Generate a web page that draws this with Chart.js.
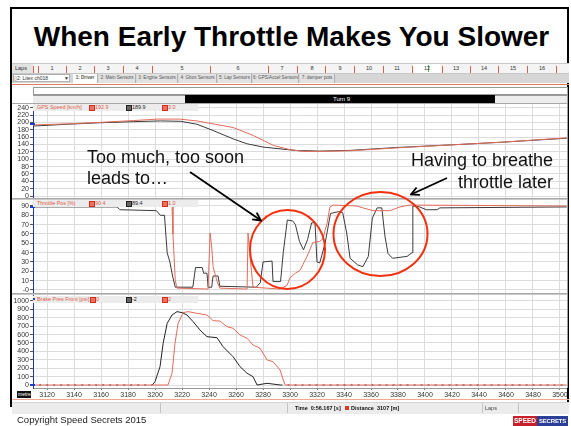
<!DOCTYPE html>
<html>
<head>
<meta charset="utf-8">
<script src="https://cdn.jsdelivr.net/npm/chart.js@4.4.1/dist/chart.umd.min.js"></script>
<style>
  body { margin:0; width:571px; height:426px; position:relative; overflow:hidden; background:#fff; font-family:"Liberation Sans", Arial, sans-serif; }
  .a { position:absolute; }
  .t { position:absolute; font-size:6px; line-height:8px; color:#333; white-space:nowrap; }
  .hdr { position:absolute; left:33px; width:165px; height:7px; background:#ececec; z-index:3; }
  .hdr .t { font-size:5.4px; top:-1px; }
  .ico { position:absolute; top:1px; width:4px; height:4px; border:1px solid #d03020; background:#f07060; }
  .ico.k { border-color:#222; background:#666; }
  canvas { position:absolute; }
</style>
</head>
<body>

<div class="a" style="left:10px;top:7px;width:555px;height:398px;border:2px solid #000;border-bottom:none"></div>

<div class="a" style="left:10px;top:23px;width:563px;text-align:center;font-size:28px;line-height:28px;font-weight:bold;color:#000">When Early Throttle Makes You Slower</div>

<!-- laps ruler -->
<div class="a" id="ruler" style="left:12px;top:63px;width:557px;height:9px;background:#f4f4f4;border-top:1px solid #c8c8c8;border-bottom:1px solid #c8c8c8"></div>
<!-- tabs -->
<div class="a" id="tabs" style="left:12px;top:74px;width:557px;height:9px;background:#d6d6d6"></div>
<div class="a" style="left:12px;top:84px;width:557px;height:1px;background:#e07a5a"></div>

<!-- turn bar -->
<div class="a" style="left:33px;top:87px;width:533px;height:6px;background:#fff;border:1px solid #9a9a9a"></div>
<div class="a" style="left:33px;top:95px;width:534px;height:8px;background:#ececec;border-top:1px solid #9a9a9a"></div>
<div class="a" style="left:185px;top:95px;width:310px;height:9px;background:#000"></div>
<div class="t" style="left:333px;top:95px;color:#fff">Turn 9</div>

<canvas id="speedChart" width="555" height="94" style="left:12px;top:104px"></canvas>
<canvas id="throttleChart" width="555" height="95" style="left:12px;top:199px"></canvas>
<canvas id="brakeChart" width="555" height="105" style="left:12px;top:295px"></canvas>

<!-- panel separators -->
<div class="a" style="left:12px;top:103px;width:555px;height:1px;background:#a8a8a8"></div>
<div class="a" style="left:12px;top:198px;width:555px;height:2px;border-top:1px solid #a8a8a8;border-bottom:1px solid #c8c8c8;box-sizing:border-box"></div>
<div class="a" style="left:12px;top:293px;width:555px;height:2px;border-top:1px solid #a8a8a8;border-bottom:1px solid #c8c8c8;box-sizing:border-box"></div>
<div class="a" style="left:567px;top:87px;width:1px;height:301px;background:#a0a0a0"></div>

<!-- cursor marks -->
<div class="a" style="left:30px;top:123px;width:5px;height:2px;background:#1c3fd0"></div>
<div class="a" style="left:30px;top:206px;width:5px;height:2px;background:#1c3fd0"></div>
<div class="a" style="left:30px;top:384px;width:5px;height:2px;background:#1c3fd0"></div>

<!-- panel headers -->
<div class="hdr" style="top:104px">
  <div class="t" style="left:4px;color:#e05a4a">GPS Speed [km/h]</div>
  <div class="ico" style="left:56px"></div><div class="t" style="left:62px;color:#e05a4a">192.9</div>
  <div class="ico k" style="left:93px"></div><div class="t" style="left:99px;color:#222">189.9</div>
  <div class="ico" style="left:129px"></div><div class="t" style="left:135px;color:#e05a4a">3.0</div>
</div>
<div class="hdr" style="top:200px">
  <div class="t" style="left:4px;color:#e05a4a">Throttle Pos [%]</div>
  <div class="ico" style="left:56px"></div><div class="t" style="left:62px;color:#e05a4a">90.4</div>
  <div class="ico k" style="left:93px"></div><div class="t" style="left:99px;color:#222">89.4</div>
  <div class="ico" style="left:129px"></div><div class="t" style="left:135px;color:#e05a4a">1.0</div>
</div>
<div class="hdr" style="top:296px">
  <div class="a" style="left:0px;top:2px;width:2px;height:2px;background:#1c3fd0"></div>
  <div class="t" style="left:4px;color:#e05a4a">Brake Pres Front [psi]</div>
  <div class="ico" style="left:57px"></div><div class="t" style="left:63px;color:#e05a4a">0</div>
  <div class="ico k" style="left:93px"></div><div class="t" style="left:99px;color:#222">-2</div>
  <div class="ico" style="left:129px"></div><div class="t" style="left:135px;color:#e05a4a">2</div>
</div>

<div class="a" style="left:17px;top:391px;width:14px;height:7px;background:#111"></div>
<div class="t" style="left:18px;top:390px;color:#fff;font-size:5px">metre</div>

<!-- footer -->
<div class="a" style="left:12px;top:399px;width:557px;height:1px;background:#f0a88e"></div>
<div class="a" style="left:12px;top:402px;width:557px;height:11px;background:#ececec;border-top:1px solid #d4d4d4"></div>
<div class="a" style="left:160px;top:403px;width:1px;height:10px;background:#c4c4c4"></div>
<div class="a" style="left:287px;top:403px;width:1px;height:10px;background:#c4c4c4"></div>
<div class="a" style="left:482px;top:403px;width:1px;height:10px;background:#c4c4c4"></div>
<div class="a" style="left:518px;top:403px;width:1px;height:10px;background:#c4c4c4"></div>
<div class="t" style="left:295px;top:404px;color:#111;font-weight:bold;font-size:5.5px">Time&nbsp;&nbsp;0:56.167 [s]</div>
<div class="a" style="left:345px;top:406px;width:4px;height:4px;background:#d83a2a"></div>
<div class="t" style="left:351px;top:404px;color:#111;font-weight:bold;font-size:5.5px">Distance&nbsp;&nbsp;3107 [m]</div>
<div class="t" style="left:485px;top:404px;color:#444;font-size:5.5px">Laps</div>

<div class="a" style="left:17px;top:414px;font-size:9.5px;line-height:11px;color:#222">Copyright Speed Secrets 2015</div>
<div class="a" style="left:513px;top:416px;width:24px;height:10px;background:#c8202a;color:#fff;font-size:6.5px;line-height:10px;font-weight:bold;text-align:center">SPEED</div>
<div class="a" style="left:537px;top:416px;width:31px;height:10px;background:#2b3f98;color:#fff;font-size:6px;line-height:10px;font-weight:bold;text-align:center;letter-spacing:-0.2px">SECRETS</div>

<!-- annotations -->
<svg class="a" style="left:0;top:0;z-index:5" width="571" height="426">
  <defs>
    <marker id="ah" markerWidth="10" markerHeight="10" refX="9" refY="5" orient="auto" markerUnits="userSpaceOnUse">
      <path d="M1,1 L9,5 L1,9" fill="none" stroke="#000" stroke-width="1.8"/>
    </marker>
  </defs>
  <ellipse cx="287.5" cy="249.5" rx="37.5" ry="39.5" fill="none" stroke="#f2300e" stroke-width="2"/>
  <ellipse cx="380.5" cy="234" rx="47" ry="42" fill="none" stroke="#f2300e" stroke-width="2"/>
  <line x1="190" y1="172" x2="261" y2="220.5" stroke="#000" stroke-width="1.8" marker-end="url(#ah)"/>
  <line x1="447" y1="178" x2="411" y2="194.5" stroke="#000" stroke-width="1.8" marker-end="url(#ah)"/>
  <g font-family="Liberation Sans, Arial, sans-serif" font-size="18" fill="#111">
    <text x="87" y="162.5">Too much, too soon</text>
    <text x="87" y="184">leads to…</text>
    <text x="553" y="166" text-anchor="end">Having to breathe</text>
    <text x="553" y="188" text-anchor="end">throttle later</text>
  </g>
</svg>

<script>
// distance axis (m)
const xTicks = [3120,3140,3160,3180,3200,3220,3240,3260,3280,3300,3320,3340,3360,3380,3400,3420,3440,3460,3480,3500]

const speedTicks = [0,20,40,60,80,100,120,140,160,180,200,220,240]
const throttleTicks = [0,10,20,30,40,50,60,70,80,90]
const throttleTickText = ["-0","10","20","30","40","50","60","70","80","90"]
const brakeTicks = [0,100,200,300,400,500,600,700,800,900,1000]

// [distance m, value]  black = this lap, red = reference lap
const speedBlack = [[3109,190],[3135,195],[3159,199],[3184,202],[3204,204],[3219,203],[3231,195],[3243,178],[3258,155],[3268,142],[3280,133],[3298,126],[3307,123],[3313,123],[3322,122],[3345,124],[3380,132],[3420,139],[3456,146],[3505,157]]
const speedRed = [[3109,193],[3135,196],[3159,200],[3184,205],[3202,209],[3218,209],[3231,204],[3243,196],[3258,186],[3273,164],[3288,137],[3300,126],[3310,121],[3322,121],[3345,123],[3380,131],[3420,139],[3456,146],[3505,158]]

const throttleBlack = [[3109,89],[3172,89],[3174,86],[3201,85],[3204,80],[3207,80],[3209,40],[3211,30],[3213,15],[3215,3],[3228,3],[3230,24],[3235,24],[3236,18],[3238.5,18],[3239.3,3],[3242,3],[3243,15],[3246.7,15],[3248,4],[3275,3],[3278,8],[3280,30],[3286.7,31],[3287.4,9],[3293,9],[3295,40],[3298,75],[3302,74],[3304,70],[3307,52],[3310,43],[3313,54],[3316,72],[3318.5,72],[3320,30],[3322,29],[3326,50],[3330,82],[3336,84],[3339,83],[3342,61],[3344.5,34],[3350,27],[3354,25],[3358,36],[3361,77],[3364.5,88],[3368,88],[3370.4,57],[3372.6,39],[3376,34],[3386.7,36],[3390.4,40],[3391,90],[3396,89],[3401,86],[3409,86],[3411,88],[3505,89]]
const throttleRed = [[3109,90],[3212.6,90],[3213.3,60],[3215,10],[3216.3,2],[3239.3,1],[3240.8,61],[3242,46],[3243,25],[3246,9],[3248,2],[3268.2,1],[3268.9,61],[3270.4,36],[3272.6,3],[3292.6,1],[3297.8,5],[3300,13],[3304,18],[3307.4,21],[3312.6,36],[3317,51],[3322,52],[3324.5,55],[3326,64],[3327.4,71],[3329.6,89],[3332,91],[3349.6,90],[3354,88],[3361.5,85],[3374,85],[3381.5,89],[3389,91],[3505,90]]

const brakeBlack = [[3109,0],[3198,0],[3200,40],[3203.7,218],[3206,496],[3209,734],[3212.6,833],[3216.3,873],[3220,861],[3223.7,833],[3228.2,754],[3233.3,655],[3238.5,575],[3245.9,563],[3250.4,456],[3257.8,337],[3263,218],[3268.2,139],[3272.6,99],[3275.6,0],[3283,20],[3290.4,5],[3293,0],[3505,0]]
const brakeRed = [[3109,0],[3209.6,0],[3212.6,139],[3214.8,496],[3217.1,734],[3220.8,861],[3224.5,873],[3231,853],[3238.5,833],[3243,766],[3248.2,760],[3253.3,694],[3257.8,675],[3263,595],[3268.2,556],[3272.6,476],[3277.8,437],[3283,298],[3287.4,278],[3292.6,179],[3296.3,0],[3505,0]]

const lapLabels = ["1","2","3","4","5","6","7","8","9","10","11","12","13","14","15","16"]
const lapX = [52,80,108,137,182,238,282,312,340,369,397,427,456,484,513,542]
const lapTickX = [33,38,66,94,123,152,210,268,297,325,354,383,412,442,470,498,527,556]

const RED = "#e36b5c"
const BLACK = "#3a3a3a"
const FONT = "'Liberation Sans', Arial, sans-serif"

function buildRuler() {
    const r = document.getElementById("ruler")
    let html = `<div class="t" style="left:0;top:0;width:21px;height:9px;background:#e2e2e2;padding-left:3px;box-sizing:border-box;font-size:5.5px">Laps</div>`
    lapTickX.forEach(x => {
        html += `<div class="a" style="left:${x - 12}px;top:2px;width:1px;height:7px;background:#d9604a"></div>`
    })
    html += `<div class="a" style="left:${413 - 12}px;top:0;width:27px;height:9px;background:#fff"></div>`
    html += `<div class="a" style="left:${428 - 12}px;top:1px;width:1px;height:7px;background:#40c040"></div>`
    lapLabels.forEach((l, i) => {
        html += `<div class="t" style="left:${lapX[i] - 12 - 6}px;width:12px;text-align:center;top:0;font-size:5.5px">${l}</div>`
    })
    r.innerHTML = html
}

function buildTabs() {
    const t = document.getElementById("tabs")
    const tabs = [["1: Driver",61,25],["2: Main Sensors",87,37],["3: Engine Sensors",125,41],["4: Gbox Sensors",167,38],["5: Lap Sensors",206,34],["6: GPS/Accel Sensors",241,46],["7: damper pots",288,35]]
    let html = `<div class="a" style="left:1px;top:0;width:57px;height:8px;background:#fff;border:1px solid #b0b0b0;box-sizing:border-box"></div>`
    html += `<div class="t" style="left:2px;top:0;font-size:5px">▯2: Litex ch018</div>`
    html += `<div class="t" style="left:52px;top:0;font-size:5px">▼</div>`
    tabs.forEach((tb, i) => {
        const bg = i == 0 ? "#fff" : "#e2e2e2"
        const fw = i == 0 ? "bold" : "normal"
        html += `<div class="t" style="left:${tb[1]}px;top:0;width:${tb[2]}px;height:9px;background:${bg};border-right:1px solid #b0b0b0;box-sizing:border-box;text-align:center;font-size:4.6px;font-weight:${fw};color:#555;overflow:hidden">${tb[0]}</div>`
    })
    t.innerHTML = html
}

function toPoints(arr) {
    return arr.map(p => ({ x: p[0], y: p[1] }))
}

function createPanel(id, yMin, yMax, yTicks, yText, datasets, showX) {

    new Chart(document.getElementById(id), {
        type: "line",
        data: { datasets: datasets },
        options: {
            animation: false,
            responsive: false,
            devicePixelRatio: 1,
            layout: { padding: 0, autoPadding: false },
            elements: { point: { radius: 0 }, line: { tension: 0, borderWidth: 1 } },
            plugins: { legend: { display: false }, tooltip: { enabled: false } },
            scales: {
                x: {
                    type: "linear",
                    min: 3109.6,
                    max: 3505.2,
                    afterBuildTicks: s => { s.ticks = xTicks.map(v => ({ value: v })) },
                    afterFit: s => { s.height = showX ? 12 : 0; s.paddingLeft = 0; s.paddingRight = 0 },
                    grid: { color: "#dcdcdc", drawTicks: showX, tickLength: 2, tickColor: "#777" },
                    border: { display: showX, color: "#999" },
                    ticks: {
                        display: showX, autoSkip: false, maxRotation: 0, padding: 1, color: "#333",
                        font: { size: 7, family: FONT },
                        callback: v => String(v)
                    }
                },
                y: {
                    min: yMin,
                    max: yMax,
                    afterBuildTicks: s => { s.ticks = yTicks.map(v => ({ value: v })) },
                    afterFit: s => { s.width = 21; s.paddingTop = 0; s.paddingBottom = 0 },
                    grid: { color: "#dcdcdc", tickLength: 3, tickColor: "#555" },
                    border: { color: "#1f3a9a", width: 1 },
                    ticks: {
                        autoSkip: false, padding: 1, color: "#333", font: { size: 7, family: FONT },
                        callback: v => yText[yTicks.indexOf(v)]
                    }
                }
            }
        }
    })
}

buildRuler()
buildTabs()

createPanel("speedChart", -5.4, 250, speedTicks, speedTicks.map(String), [
    { data: toPoints(speedRed), borderColor: RED },
    { data: toPoints(speedBlack), borderColor: BLACK }
], false)

createPanel("throttleChart", -4.3, 97.5, throttleTicks, throttleTickText, [
    { data: toPoints(throttleRed), borderColor: RED },
    { data: toPoints(throttleBlack), borderColor: BLACK }
], false)

createPanel("brakeChart", -35.7, 1071, brakeTicks, brakeTicks.map(String), [
    { data: toPoints(brakeRed), borderColor: RED },
    {
        data: toPoints(brakeBlack), borderColor: "#222",
        segment: { borderDash: ctx => (ctx.p0.parsed.y == 0 && ctx.p1.parsed.y == 0) ? [2, 5] : undefined }
    }
], true)
</script>
</body>
</html>
